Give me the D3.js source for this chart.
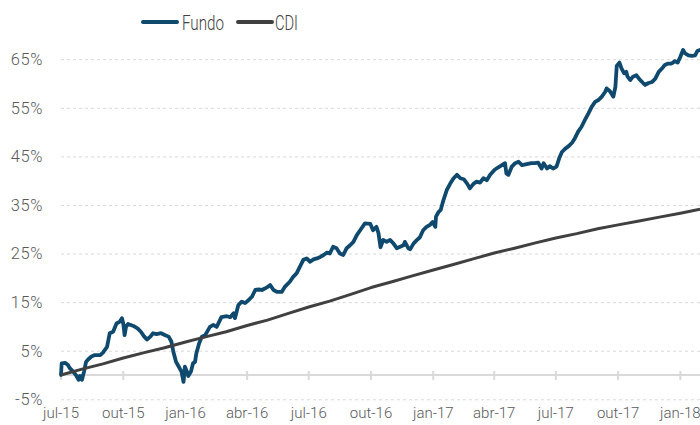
<!DOCTYPE html>
<html>
<head>
<meta charset="utf-8">
<script src="https://cdn.jsdelivr.net/npm/d3@7"></script>
<style>
  html, body { margin: 0; padding: 0; background: #ffffff; }
  svg { display: block; }
  text { font-family: Roboto, "Liberation Sans", sans-serif; font-weight: 300; }
</style>
</head>
<body>
<svg id="chart" width="700" height="425"></svg>
<script>
// ---------- DATA ----------
const seriesNames = ["Fundo", "CDI"];

const fundoDates = [
"2015-07-01","2015-07-02","2015-07-07","2015-07-11","2015-07-14","2015-07-19","2015-07-23","2015-07-27","2015-07-29","2015-08-01",
"2015-08-04","2015-08-07","2015-08-10","2015-08-15","2015-08-20","2015-08-28","2015-09-01","2015-09-07","2015-09-09","2015-09-11",
"2015-09-16","2015-09-21","2015-09-26","2015-09-29","2015-10-01","2015-10-03","2015-10-05","2015-10-08","2015-10-16","2015-10-22",
"2015-10-27","2015-11-01","2015-11-05","2015-11-10","2015-11-14","2015-11-19","2015-11-26","2015-12-02","2015-12-07","2015-12-11",
"2015-12-14","2015-12-18","2015-12-22","2015-12-26","2015-12-29","2015-12-31","2016-01-03","2016-01-05","2016-01-09","2016-01-12",
"2016-01-15","2016-01-17","2016-01-21","2016-01-25","2016-01-30","2016-02-06","2016-02-11","2016-02-16","2016-02-23","2016-03-02",
"2016-03-07","2016-03-12","2016-03-14","2016-03-19","2016-03-24","2016-03-29","2016-04-03","2016-04-08","2016-04-13","2016-04-18",
"2016-04-23","2016-04-27","2016-05-02","2016-05-05","2016-05-10","2016-05-15","2016-05-22","2016-05-27","2016-06-03","2016-06-08",
"2016-06-13","2016-06-18","2016-06-23","2016-06-28","2016-07-03","2016-07-08","2016-07-13","2016-07-18","2016-07-23","2016-07-28",
"2016-08-01","2016-08-06","2016-08-11","2016-08-16","2016-08-21","2016-08-26","2016-08-31","2016-09-05","2016-09-10","2016-09-15",
"2016-09-22","2016-09-30","2016-10-04","2016-10-09","2016-10-12","2016-10-15","2016-10-19","2016-10-24","2016-10-29","2016-11-03",
"2016-11-08","2016-11-13","2016-11-18","2016-11-20","2016-11-25","2016-11-28","2016-12-03","2016-12-08","2016-12-12","2016-12-17",
"2016-12-22","2016-12-27","2016-12-31","2017-01-04","2017-01-05","2017-01-09","2017-01-12","2017-01-16","2017-01-21","2017-01-26",
"2017-01-31","2017-02-05","2017-02-10","2017-02-15","2017-02-20","2017-02-24","2017-03-01","2017-03-06","2017-03-11","2017-03-16",
"2017-03-21","2017-03-26","2017-04-02","2017-04-10","2017-04-17","2017-04-19","2017-04-22","2017-04-27","2017-05-02","2017-05-07",
"2017-05-12","2017-05-19","2017-05-26","2017-05-31","2017-06-05","2017-06-10","2017-06-13","2017-06-18","2017-06-22","2017-06-27",
"2017-07-02","2017-07-06","2017-07-10","2017-07-15","2017-07-20","2017-07-25","2017-07-29","2017-08-03","2017-08-08","2017-08-13",
"2017-08-18","2017-08-23","2017-08-28","2017-09-02","2017-09-07","2017-09-12","2017-09-14","2017-09-19","2017-09-24","2017-09-27",
"2017-09-29","2017-10-03","2017-10-06","2017-10-10","2017-10-13","2017-10-15","2017-10-19","2017-10-23","2017-10-28","2017-11-02",
"2017-11-07","2017-11-10","2017-11-15","2017-11-20","2017-11-25","2017-11-30","2017-12-05","2017-12-09","2017-12-14","2017-12-19",
"2017-12-24","2017-12-28","2018-01-01","2018-01-05","2018-01-08","2018-01-13","2018-01-18","2018-01-23","2018-01-26","2018-01-30"
];

const fundoValues = [
0.0, 2.4, 2.5, 2.1, 1.4, 0.7, 0.0, -1.0, -0.2, -1.0,
0.7, 2.7, 3.2, 3.8, 4.1, 4.1, 4.6, 5.8, 7.2, 8.6,
8.9, 10.6, 11.0, 11.7, 10.6, 8.2, 9.9, 10.5, 10.1, 9.6,
8.9, 7.9, 7.3, 7.9, 8.6, 8.4, 8.6, 8.2, 7.9, 6.9,
4.8, 2.7, 1.7, 0.7, -1.4, 1.7, 0.7, -0.2, 0.7, 2.4,
2.7, 4.5, 6.5, 7.9, 8.2, 9.9, 10.3, 9.9, 11.9, 12.1,
11.9, 12.7, 11.7, 14.4, 15.1, 14.8, 15.4, 16.1, 17.5, 17.6,
17.5, 17.8, 18.2, 18.5, 17.5, 17.1, 17.1, 18.2, 19.2, 20.2,
20.9, 22.3, 23.7, 24.0, 23.3, 23.8, 24.0, 24.3, 24.7, 25.2,
25.0, 26.4, 26.1, 25.0, 24.7, 26.1, 26.7, 27.4, 28.8, 29.8,
31.2, 31.1, 29.8, 30.5, 29.2, 26.3, 27.8, 27.4, 27.8, 27.1,
26.1, 26.4, 26.7, 27.4, 26.1, 25.9, 27.1, 27.8, 28.3, 29.8,
30.5, 30.9, 31.5, 30.5, 32.6, 33.6, 34.0, 36.0, 38.1, 39.4,
40.5, 41.2, 40.5, 40.3, 39.4, 38.4, 39.3, 39.8, 39.6, 40.5,
40.1, 41.2, 42.3, 43.0, 43.6, 41.5, 41.2, 42.9, 43.6, 43.9,
43.2, 43.4, 43.6, 43.6, 43.7, 42.5, 43.6, 42.5, 43.0, 42.5,
42.9, 44.6, 45.9, 46.6, 47.1, 47.8, 48.7, 50.1, 51.1, 52.5,
53.8, 55.2, 56.2, 56.6, 57.3, 58.3, 59.0, 58.4, 57.3, 59.3,
63.6, 64.3, 63.1, 62.1, 62.4, 61.4, 60.7, 61.4, 61.7, 60.8,
60.1, 59.7, 60.1, 60.3, 61.0, 62.4, 63.1, 63.8, 64.1, 64.1,
64.6, 64.3, 65.5, 66.9, 66.2, 65.8, 65.7, 65.8, 66.7, 66.9
];

const cdiDates = [
"2015-07-01","2015-08-01","2015-09-01","2015-10-01","2015-11-01","2015-12-01",
"2016-01-01","2016-02-01","2016-03-01","2016-04-01","2016-05-01","2016-06-01",
"2016-07-01","2016-08-01","2016-09-01","2016-10-01","2016-11-01","2016-12-01",
"2017-01-01","2017-02-01","2017-03-01","2017-04-01","2017-05-01","2017-06-01",
"2017-07-01","2017-08-01","2017-09-01","2017-10-01","2017-11-01","2017-12-01",
"2018-01-01","2018-01-30"
];
const cdiValues = [
0.0, 1.2, 2.3, 3.5, 4.6, 5.6,
6.8, 7.9, 8.9, 10.2, 11.3, 12.7,
14.0, 15.2, 16.6, 18.0, 19.2, 20.4,
21.6, 22.8, 23.9, 25.1, 26.1, 27.2,
28.2, 29.1, 30.1, 30.9, 31.7, 32.5,
33.3, 34.1
];

const xTickDates  = ["2015-07-01","2015-10-01","2016-01-01","2016-04-01","2016-07-01","2016-10-01",
                     "2017-01-01","2017-04-01","2017-07-01","2017-10-01","2018-01-01"];
const xTickLabels = ["jul-15","out-15","jan-16","abr-16","jul-16","out-16",
                     "jan-17","abr-17","jul-17","out-17","jan-18"];
const yTicks = [-5, 5, 15, 25, 35, 45, 55, 65];

// ---------- SETUP ----------
const parse = d3.timeParse("%Y-%m-%d");
const colors = { Fundo: "#0f4a6e", CDI: "#404040" };

const svg = d3.select("#chart");
const x = d3.scaleTime()
  .domain([parse("2015-07-01"), parse("2018-01-30")])
  .range([61, 700]);
const y = d3.scaleLinear()
  .domain([-5, 65])
  .range([399.3, 59.2]);

// gridlines
const grid = d3.axisLeft(y).tickValues(yTicks).tickSize(-(700 - 61)).tickFormat("");
svg.append("g").attr("transform", "translate(61,0)").call(grid)
  .call(g => g.select(".domain").remove())
  .call(g => g.selectAll("line").attr("stroke", "#d9d9d9").attr("stroke-width", 1).attr("stroke-dasharray", "3,3"));

// y labels
svg.append("g").selectAll("text").data(yTicks).join("text")
  .attr("x", 43).attr("y", d => y(d)).attr("dy", "0.36em")
  .attr("text-anchor", "end").attr("font-size", 16.5).attr("fill", "#595959")
  .attr("letter-spacing", 0.6)
  .text(d => d + "%");

// zero axis with ticks
const xAxis = d3.axisBottom(x)
  .tickValues(xTickDates.map(parse))
  .tickSize(0)
  .tickFormat("");
svg.append("g").attr("transform", `translate(0,${y(0)})`).call(xAxis)
  .call(g => g.select(".domain").attr("stroke", "#d9d9d9").attr("stroke-width", 2).attr("d", `M61,0H700`));
svg.append("g").selectAll("line").data(xTickDates).join("line")
  .attr("x1", d => x(parse(d))).attr("x2", d => x(parse(d)))
  .attr("y1", y(0) - 4).attr("y2", y(0) + 5)
  .attr("stroke", "#d9d9d9").attr("stroke-width", 2);

// x labels
svg.append("g").selectAll("text").data(xTickDates).join("text")
  .attr("x", d => x(parse(d))).attr("y", 418)
  .attr("text-anchor", "middle").attr("font-size", 15).attr("fill", "#595959")
  .text((d, i) => xTickLabels[i]);

// lines
const line = d3.line().x(d => x(d[0])).y(d => y(d[1])).curve(d3.curveLinear);
const fundoData = fundoDates.map((d, i) => [parse(d), fundoValues[i]]);
const cdiData = cdiDates.map((d, i) => [parse(d), cdiValues[i]]);

svg.append("path").datum(fundoData).attr("d", line)
  .attr("fill", "none").attr("stroke", colors.Fundo).attr("stroke-width", 3.8)
  .attr("stroke-linejoin", "round").attr("stroke-linecap", "round");
svg.append("path").datum(cdiData).attr("d", line)
  .attr("fill", "none").attr("stroke", colors.CDI).attr("stroke-width", 3)
  .attr("stroke-linejoin", "round").attr("stroke-linecap", "butt");

// legend
const legendItems = [
  { name: seriesNames[0], x1: 143, x2: 177, tx: 182, w: 42 },
  { name: seriesNames[1], x1: 238, x2: 272, tx: 275, w: 23 }
];
const lg = svg.append("g");
lg.selectAll("line").data(legendItems).join("line")
  .attr("x1", d => d.x1).attr("x2", d => d.x2).attr("y1", 22).attr("y2", 22)
  .attr("stroke", d => colors[d.name]).attr("stroke-width", 4).attr("stroke-linecap", "round");
lg.selectAll("text").data(legendItems).join("text")
  .attr("x", d => d.tx).attr("y", 22).attr("dy", "0.36em")
  .attr("font-size", 21).attr("fill", "#404040")
  .attr("textLength", d => d.w).attr("lengthAdjust", "spacingAndGlyphs")
  .text(d => d.name);
</script>
</body>
</html>
